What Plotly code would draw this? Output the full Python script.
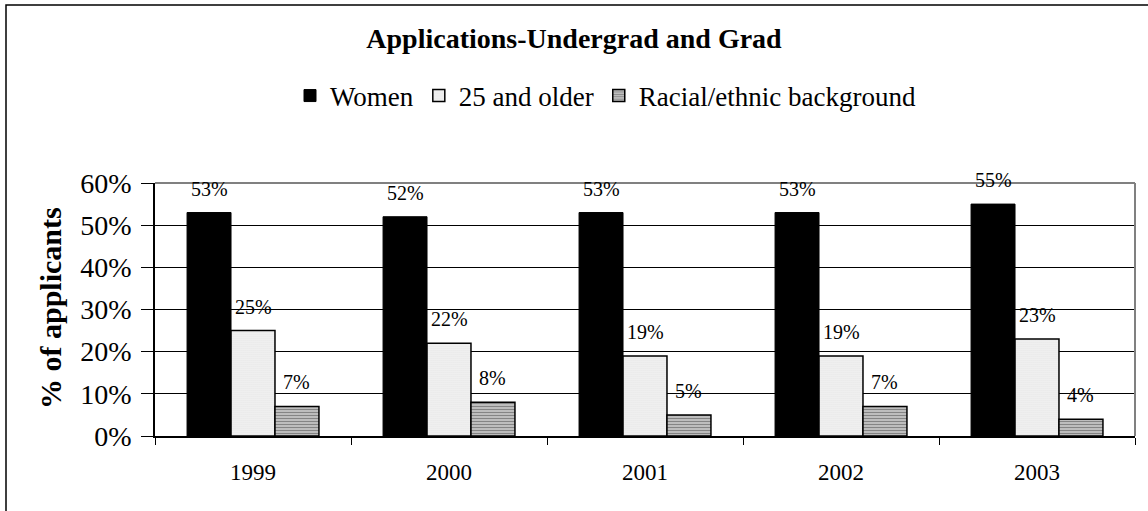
import plotly.graph_objects as go

years = ["1999", "2000", "2001", "2002", "2003"]
women = [53, 52, 53, 53, 55]
older = [25, 22, 19, 19, 23]
racial = [7, 8, 5, 7, 4]

series_names = ["Women", "25 and older", "Racial/ethnic background"]
y_ticks = [0, 10, 20, 30, 40, 50, 60]
y_tick_text = [f"{v}%" for v in y_ticks]

FONT = "Times New Roman"

W, H = 1148, 511
L, R, T, B = 155, 13, 183, 75
plot_w = W - L - R
plot_h = H - T - B

fig = go.Figure()

styles = [
    dict(color="black", line=dict(color="black", width=1)),
    dict(color="white", line=dict(color="black", width=1.5),
         pattern=dict(shape=".", fgcolor="#a8a8a8", bgcolor="#f6f6f6", size=2, solidity=0.3)),
    dict(color="white", line=dict(color="black", width=1.5),
         pattern=dict(shape="-", fgcolor="#383838", bgcolor="#d0d0d0", size=3, solidity=0.5)),
]

for name, vals, st in zip(series_names, [women, older, racial], styles):
    fig.add_trace(go.Bar(x=years, y=vals, name=name, marker=st))

# value labels above each bar
n_series = 3
bargap = 0.327
bar_w = (1 - bargap) / n_series
for j, vals in enumerate([women, older, racial]):
    for i, v in enumerate(vals):
        fig.add_annotation(
            x=i + (j - 1) * bar_w, y=v, xref="x", yref="y",
            text=f"{v}%", showarrow=False, xanchor="center", yanchor="bottom", yshift=11,
            font=dict(family=FONT, size=20, color="black"),
        )

# y-axis title
fig.add_annotation(
    x=(50 - L) / plot_w, y=(T + plot_h - 308) / plot_h, xref="paper", yref="paper",
    xanchor="center", yanchor="middle",
    text="<b>% of applicants</b>", textangle=-90, showarrow=False,
    font=dict(family=FONT, size=30, color="black"),
)

# plot-area border (top and right) and outer frame
fig.add_shape(type="line", xref="paper", yref="paper", x0=0, x1=1, y0=1, y1=1,
              line=dict(color="#808080", width=2))
fig.add_shape(type="line", xref="paper", yref="paper", x0=1, x1=1, y0=0, y1=1,
              line=dict(color="#808080", width=2))
fig.add_shape(type="rect", xref="paper", yref="paper",
              x0=(6 - L) / plot_w, x1=(W + 10 - L) / plot_w,
              y0=-(H + 10 - (T + plot_h)) / plot_h, y1=(T + plot_h - 5) / plot_h,
              line=dict(color="black", width=1.5), layer="below")

fig.update_layout(
    width=W, height=H,
    margin=dict(l=L, r=R, t=T, b=B),
    paper_bgcolor="white", plot_bgcolor="white",
    barmode="group", bargap=bargap, bargroupgap=0,
    font=dict(family=FONT, color="black"),
    title=dict(text="<b>Applications-Undergrad and Grad</b>", x=0.5, xanchor="center",
               y=1 - 38 / H, yanchor="middle", font=dict(family=FONT, size=28, color="black")),
    legend=dict(orientation="h", x=(290 - L) / plot_w, xanchor="left",
                y=(T + plot_h - 96) / plot_h, yanchor="middle",
                font=dict(family=FONT, size=27, color="black"),
                itemwidth=30, tracegroupgap=0, bgcolor="rgba(0,0,0,0)"),
    xaxis=dict(type="category", showline=True, linecolor="black", linewidth=1.5,
               ticks="outside", tickson="boundaries", ticklen=7, tickcolor="black",
               ticklabelstandoff=15,
               tickfont=dict(family=FONT, size=23, color="black"), showgrid=False),
    yaxis=dict(range=[0, 60], tickmode="array", tickvals=y_ticks, ticktext=y_tick_text,
               showline=True, linecolor="black", linewidth=1.5, ticks="outside", ticklen=12,
               ticklabelstandoff=4,
               tickcolor="black", gridcolor="black", gridwidth=1, zeroline=False,
               tickfont=dict(family=FONT, size=28, color="black")),
    showlegend=True,
)

fig.write_html("out.html")
